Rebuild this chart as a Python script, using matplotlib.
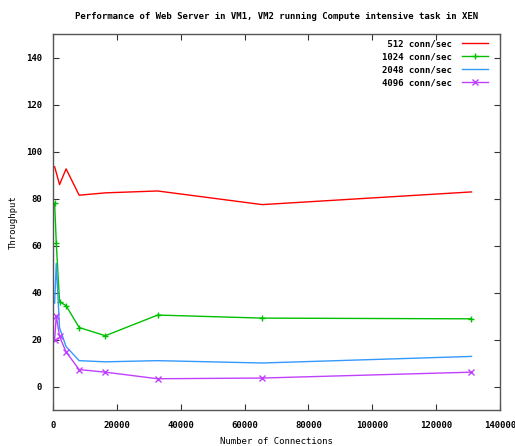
import matplotlib
matplotlib.use('Agg')
import matplotlib.pyplot as plt

connections = [512, 1024, 2048, 4096, 8192, 16384, 32768, 65536, 131072]
rate_512 = [93.5, 91.0, 85.9, 92.6, 81.4, 82.4, 83.2, 77.4, 82.8]
rate_1024 = [78.0, 61.1, 36.1, 34.4, 25.1, 21.6, 30.4, 29.1, 28.8]
rate_2048 = [35.5, 52.4, 25.0, 17.0, 11.0, 10.5, 11.0, 10.0, 12.8]
rate_4096 = [19.9, 30.2, 21.3, 14.7, 7.2, 6.1, 3.3, 3.6, 6.1]

xticks = [0, 20000, 40000, 60000, 80000, 100000, 120000, 140000]
yticks = [0, 20, 40, 60, 80, 100, 120, 140]

plt.rcParams['font.family'] = 'DejaVu Sans Mono'
plt.rcParams['font.size'] = 6.5
plt.rcParams['font.weight'] = 'bold'

fig = plt.figure(figsize=(5.15, 4.46), dpi=100)
ax = fig.add_axes([53 / 515, 1 - 410 / 446, 447 / 515, 376 / 446])

ax.plot(connections, rate_512, color='#ff0000', lw=1, label=' 512 conn/sec')
ax.plot(connections, rate_1024, color='#00c000', lw=1, marker='+', ms=5,
        mew=1, label='1024 conn/sec')
ax.plot(connections, rate_2048, color='#3399ff', lw=1, label='2048 conn/sec')
ax.plot(connections, rate_4096, color='#c040ff', lw=1, marker='x', ms=4,
        mew=1, label='4096 conn/sec')

ax.set_xlim(0, 140000)
ax.set_ylim(-10, 150)
ax.set_xticks(xticks)
ax.set_xticklabels([str(t) for t in xticks])
ax.set_yticks(yticks)
ax.tick_params(direction='in', length=4, width=0.8, top=True, right=True,
               pad=8, colors='#333333', labelcolor='black')
for s in ax.spines.values():
    s.set_color('#555555')
    s.set_linewidth(1)

ax.set_title('Performance of Web Server in VM1, VM2 running Compute intensive task in XEN',
             fontsize=6.5, fontweight='bold', pad=11)
ax.set_xlabel('Number of Connections', labelpad=5)
ax.set_ylabel('Throughput', labelpad=6)

ax.legend(loc='upper right', bbox_to_anchor=(1 - 6 / 447, 1 + 1 / 376),
          frameon=False, markerfirst=False, handlelength=2.8,
          handletextpad=1.2, labelspacing=0.45, borderaxespad=0.3,
          prop={'family': 'DejaVu Sans Mono', 'size': 6.5, 'weight': 'bold'})

plt.savefig('out.png', dpi=100)
